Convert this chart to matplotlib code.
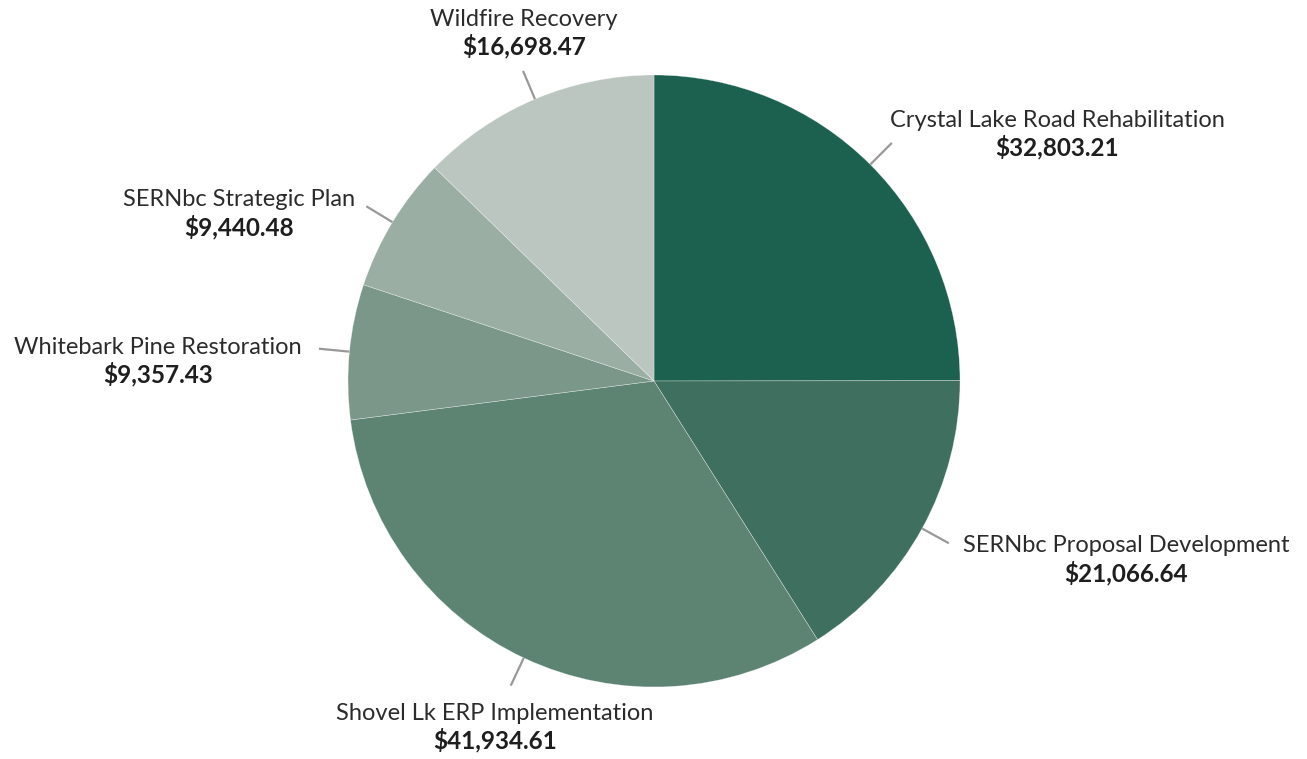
import matplotlib.pyplot as plt
import numpy as np
from matplotlib.offsetbox import TextArea, VPacker, AnnotationBbox

projects = ['Crystal Lake Road Rehabilitation', 'SERNbc Proposal Development',
            'Shovel Lk ERP Implementation', 'Whitebark Pine Restoration',
            'SERNbc Strategic Plan', 'Wildfire Recovery']
amounts = [32803.21, 21066.64, 41934.61, 9357.43, 9440.48, 16698.47]
colors = ['#1c6150', '#3f6f5f', '#5d8473', '#7a9789', '#9aaea3', '#bac6bf']

# label placement: box alignment and pixel offset from the leader line end
label_align = [(0, 0.5), (0, 0.5), (0.5, 0.5), (1, 0.5), (1, 0.5), (0.5, 0.5)]
label_offset = [(-2, 8), (14, -17), (-16, -42), (-17, -13), (-11, -8), (1, 37)]

plt.rcParams['font.family'] = ['Lato', 'DejaVu Sans']

fig = plt.figure(figsize=(13.07, 7.59), dpi=100)
ax = fig.add_axes([0, 0, 1, 1])

ax.pie(amounts, colors=colors, startangle=90, counterclock=False, radius=1,
       wedgeprops=dict(edgecolor=(1, 1, 1, 0.5), linewidth=0.4))
ax.set_aspect('auto')
ax.set_xlim(-654 / 306, (1307 - 654) / 306)
ax.set_ylim(-378 / 306, 381 / 306)
ax.axis('off')

total = sum(amounts)
cum = np.cumsum([0] + amounts[:-1])
for name, val, c0, al, off in zip(projects, amounts, cum, label_align, label_offset):
    theta = np.radians(360 * (c0 + val / 2) / total)
    sx, sy = np.sin(theta), np.cos(theta)
    ax.plot([sx * 1.0, sx * 1.1], [sy * 1.0, sy * 1.1], color='#999999', lw=1.6,
            solid_capstyle='butt')
    box = VPacker(children=[
        TextArea(name, textprops=dict(fontsize=17, color='#2b2b2b', weight='normal')),
        TextArea(f'${val:,.2f}', textprops=dict(fontsize=17.5, color='#1e1e1e', weight='bold')),
    ], align='center', pad=0, sep=3)
    ab = AnnotationBbox(box, (sx * 1.1, sy * 1.1), xybox=off, boxcoords='offset pixels',
                        box_alignment=al, frameon=False, pad=0)
    ax.add_artist(ab)

fig.savefig('out.png', dpi=100)
